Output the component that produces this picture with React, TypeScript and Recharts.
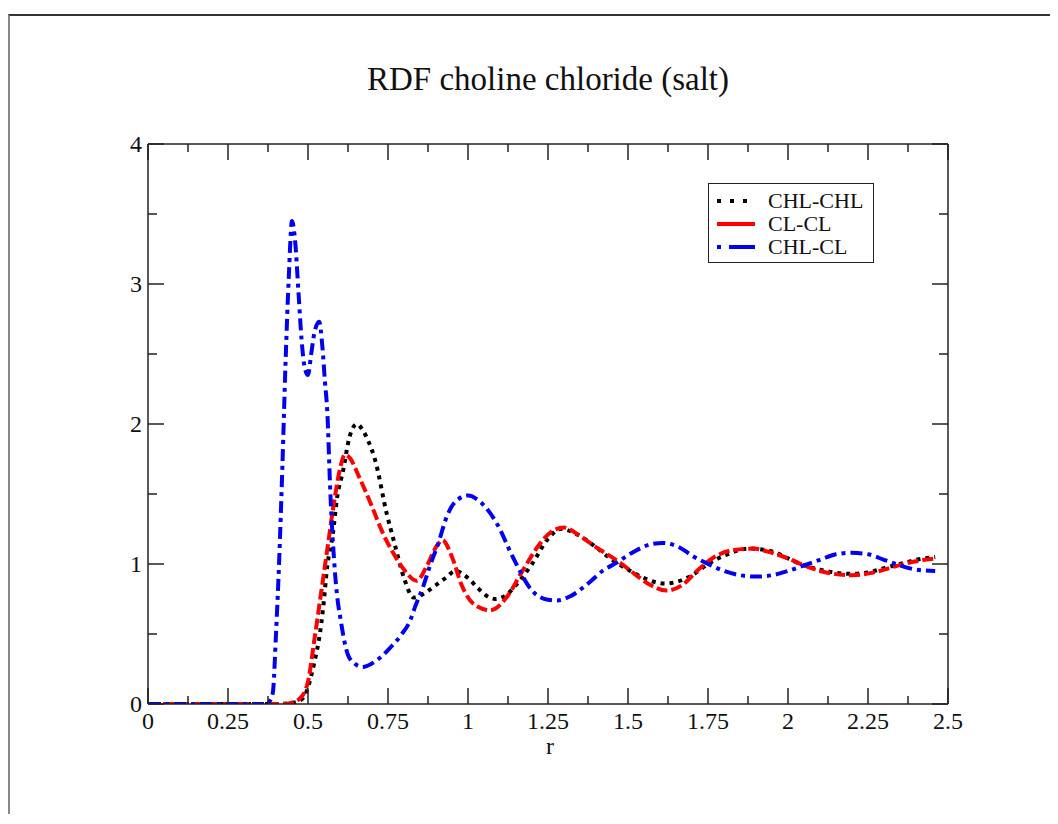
import React from 'react';
import { LineChart, Line, XAxis, YAxis } from 'recharts';

// values (r in nm, g(r))
const rChlChl = [0, 0.1, 0.2, 0.3, 0.4, 0.44, 0.47, 0.49, 0.5, 0.52, 0.537, 0.547, 0.56, 0.578, 0.59, 0.61, 0.63, 0.653, 0.67, 0.69, 0.71, 0.746, 0.77, 0.8, 0.83, 0.87, 0.9, 0.93, 0.96, 1.0, 1.03, 1.06, 1.085, 1.12, 1.15, 1.2, 1.25, 1.29, 1.35, 1.4, 1.45, 1.5, 1.55, 1.616, 1.7, 1.75, 1.8, 1.88, 1.95, 2.0, 2.05, 2.1, 2.19, 2.25, 2.3, 2.35, 2.4, 2.46];
const gChlChl = [0, 0, 0, 0, 0, 0.005, 0.02, 0.06, 0.12, 0.3, 0.5, 0.68, 0.98, 1.22, 1.46, 1.67, 1.91, 2.0, 1.96, 1.87, 1.74, 1.36, 1.15, 0.9, 0.76, 0.8, 0.85, 0.9, 0.95, 0.9, 0.83, 0.77, 0.75, 0.78, 0.85, 1.0, 1.18, 1.25, 1.2, 1.12, 1.03, 0.96, 0.9, 0.86, 0.92, 1.0, 1.06, 1.11, 1.09, 1.04, 0.99, 0.96, 0.93, 0.94, 0.97, 1.0, 1.03, 1.05];

const rClCl = [0, 0.1, 0.2, 0.3, 0.42, 0.45, 0.475, 0.5, 0.52, 0.54, 0.56, 0.58, 0.6, 0.615, 0.63, 0.66, 0.7, 0.73, 0.766, 0.8, 0.84, 0.87, 0.9, 0.92, 0.95, 0.98, 1.02, 1.07, 1.12, 1.17, 1.22, 1.26, 1.3, 1.35, 1.4, 1.475, 1.52, 1.57, 1.62, 1.67, 1.72, 1.77, 1.83, 1.89, 1.95, 2.0, 2.05, 2.1, 2.2, 2.27, 2.33, 2.4, 2.46];
const gClCl = [0, 0, 0, 0, 0, 0.01, 0.04, 0.16, 0.46, 0.78, 1.1, 1.42, 1.68, 1.78, 1.76, 1.62, 1.41, 1.24, 1.08, 0.96, 0.88, 0.98, 1.12, 1.17, 1.05, 0.85, 0.71, 0.67, 0.76, 0.95, 1.13, 1.23, 1.26, 1.2, 1.12, 1.01, 0.93, 0.85, 0.81, 0.85, 0.96, 1.05, 1.1, 1.11, 1.08, 1.04, 0.99, 0.95, 0.92, 0.94, 0.98, 1.02, 1.04];

const rChlCl = [0, 0.1, 0.2, 0.3, 0.37, 0.38, 0.39, 0.4, 0.41, 0.42, 0.43, 0.44, 0.45, 0.46, 0.47, 0.48, 0.49, 0.5, 0.51, 0.52, 0.535, 0.545, 0.553, 0.56, 0.57, 0.585, 0.605, 0.625, 0.645, 0.67, 0.7, 0.73, 0.756, 0.79, 0.82, 0.834, 0.86, 0.88, 0.906, 0.934, 0.955, 1.0, 1.04, 1.09, 1.14, 1.2, 1.25, 1.28, 1.32, 1.38, 1.42, 1.465, 1.52, 1.57, 1.61, 1.66, 1.7, 1.75, 1.8, 1.85, 1.9, 1.95, 2.0, 2.05, 2.1, 2.15, 2.2, 2.25, 2.3, 2.35, 2.4, 2.46];
const gChlCl = [0, 0, 0, 0, 0, 0.02, 0.08, 0.5, 1.03, 1.7, 2.45, 3.05, 3.45, 3.3, 2.95, 2.6, 2.4, 2.35, 2.5, 2.65, 2.73, 2.55, 2.3, 2.1, 1.5, 0.92, 0.56, 0.35, 0.29, 0.265, 0.29, 0.34, 0.4, 0.49, 0.6, 0.69, 0.84, 0.98, 1.14, 1.34, 1.43, 1.49, 1.44, 1.29, 1.05, 0.81, 0.745, 0.74, 0.77, 0.87, 0.95, 1.01, 1.09, 1.14, 1.15, 1.12, 1.06, 1.0, 0.95, 0.92, 0.91, 0.92, 0.95, 0.99, 1.03, 1.07, 1.08, 1.07, 1.03, 0.99, 0.96, 0.95];

const xTicks = [0, 0.125, 0.25, 0.375, 0.5, 0.625, 0.75, 0.875, 1, 1.125, 1.25, 1.375, 1.5, 1.625, 1.75, 1.875, 2, 2.125, 2.25, 2.375, 2.5];
const yTicks = [0, 0.5, 1, 1.5, 2, 2.5, 3, 3.5, 4];

const toRows = (r: number[], g: number[]) => r.map((v, i) => ({ r: v, g: g[i] }));

const FONT = '"Liberation Serif", "Times New Roman", serif';
const AXIS = '#222';

const isMajor = (v: number, step: number) => Math.abs(v / step - Math.round(v / step)) < 1e-6;

const BottomTick = ({ x, y, payload }: any) => {
  const major = isMajor(payload.value, 0.25);
  return (
    <g>
      <line x1={x} x2={x} y1={y} y2={y - (major ? 16 : 8)} stroke={AXIS} strokeWidth={1.5} />
      {major && (
        <text x={x} y={y + 25} textAnchor="middle" fontFamily={FONT} fontSize={24} fill="#111">
          {payload.value}
        </text>
      )}
    </g>
  );
};

const TopTick = ({ x, y, payload }: any) => {
  const major = isMajor(payload.value, 0.25);
  return <line x1={x} x2={x} y1={y} y2={y + (major ? 16 : 8)} stroke={AXIS} strokeWidth={1.5} />;
};

const LeftTick = ({ x, y, payload }: any) => {
  const major = isMajor(payload.value, 1);
  return (
    <g>
      <line x1={x} x2={x + (major ? 16 : 9)} y1={y} y2={y} stroke={AXIS} strokeWidth={1.5} />
      {major && (
        <text x={x - 6} y={y} dy="0.35em" textAnchor="end" fontFamily={FONT} fontSize={24} fill="#111">
          {payload.value}
        </text>
      )}
    </g>
  );
};

const RightTick = ({ x, y, payload }: any) => {
  const major = isMajor(payload.value, 1);
  return <line x1={x} x2={x - (major ? 16 : 9)} y1={y} y2={y} stroke={AXIS} strokeWidth={1.5} />;
};

const LegendRow = ({ label, stroke, dash }: { label: string; stroke: string; dash?: string }) => (
  <div style={{ display: 'flex', alignItems: 'center', height: 23 }}>
    <svg width={44} height={10} style={{ marginRight: 9 }}>
      <line x1={2} x2={40} y1={5} y2={5} stroke={stroke} strokeWidth={4} strokeDasharray={dash} />
    </svg>
    <span style={{ fontFamily: FONT, fontSize: 22, color: '#111', lineHeight: '23px' }}>{label}</span>
  </div>
);

export default function App() {
  return (
    <div style={{ position: 'relative', width: 1042, height: 806 }}>
      <div style={{ position: 'absolute', left: 0, top: 6, width: 1050, height: 810, borderTop: '2px solid #333', borderLeft: '2px solid #888' }} />
      <div style={{ position: 'absolute', left: 0, width: 1080, top: 53, textAlign: 'center', fontFamily: FONT, fontSize: 33, color: '#111' }}>
        RDF choline chloride (salt)
      </div>
      <LineChart width={1042} height={806} margin={{ top: 135, right: 101, bottom: 70, left: 100 }}>
        <XAxis xAxisId="b" dataKey="r" type="number" domain={[0, 2.5]} ticks={xTicks} interval={0}
          tick={<BottomTick />} tickSize={0} tickMargin={0} tickLine={false} height={40}
          axisLine={{ stroke: AXIS, strokeWidth: 1.5 }} allowDataOverflow />
        <XAxis xAxisId="t" orientation="top" dataKey="r" type="number" domain={[0, 2.5]} ticks={xTicks} interval={0}
          tick={<TopTick />} tickSize={0} tickMargin={0} tickLine={false} height={1}
          axisLine={{ stroke: AXIS, strokeWidth: 1.5 }} allowDataOverflow />
        <YAxis yAxisId="l" type="number" domain={[0, 4]} ticks={yTicks} interval={0}
          tick={<LeftTick />} tickSize={0} tickMargin={0} tickLine={false} width={40}
          axisLine={{ stroke: AXIS, strokeWidth: 1.5 }} allowDataOverflow />
        <YAxis yAxisId="rr" orientation="right" type="number" domain={[0, 4]} ticks={yTicks} interval={0}
          tick={<RightTick />} tickSize={0} tickMargin={0} tickLine={false} width={1}
          axisLine={{ stroke: AXIS, strokeWidth: 1.5 }} allowDataOverflow />
        <Line xAxisId="b" yAxisId="l" data={toRows(rChlChl, gChlChl)} dataKey="g" name="CHL-CHL" type="monotone"
          stroke="#000" strokeWidth={4} strokeDasharray="4 5" dot={false} isAnimationActive={false} />
        <Line xAxisId="t" yAxisId="rr" data={toRows(rClCl, gClCl)} dataKey="g" name="CL-CL" type="monotone"
          stroke="#f00" strokeWidth={4} strokeDasharray="11 4" dot={false} isAnimationActive={false} />
        <Line xAxisId="b" yAxisId="l" data={toRows(rChlCl, gChlCl)} dataKey="g" name="CHL-CL" type="monotone"
          stroke="#0000f0" strokeWidth={4} strokeDasharray="12 5 4 5" dot={false} isAnimationActive={false} />
      </LineChart>
      <div style={{ position: 'absolute', left: 538, top: 728, fontFamily: FONT, fontSize: 24, lineHeight: '20px', color: '#111' }}>r</div>
      <div style={{ position: 'absolute', left: 700, top: 175, width: 166, height: 80, border: '1.5px solid #222', background: '#fff', padding: '5px 0 0 6px', boxSizing: 'border-box' }}>
        <LegendRow label="CHL-CHL" stroke="#000" dash="4 9" />
        <LegendRow label="CL-CL" stroke="#f00" />
        <LegendRow label="CHL-CL" stroke="#0000f0" dash="4 8 22 0" />
      </div>
    </div>
  );
}
